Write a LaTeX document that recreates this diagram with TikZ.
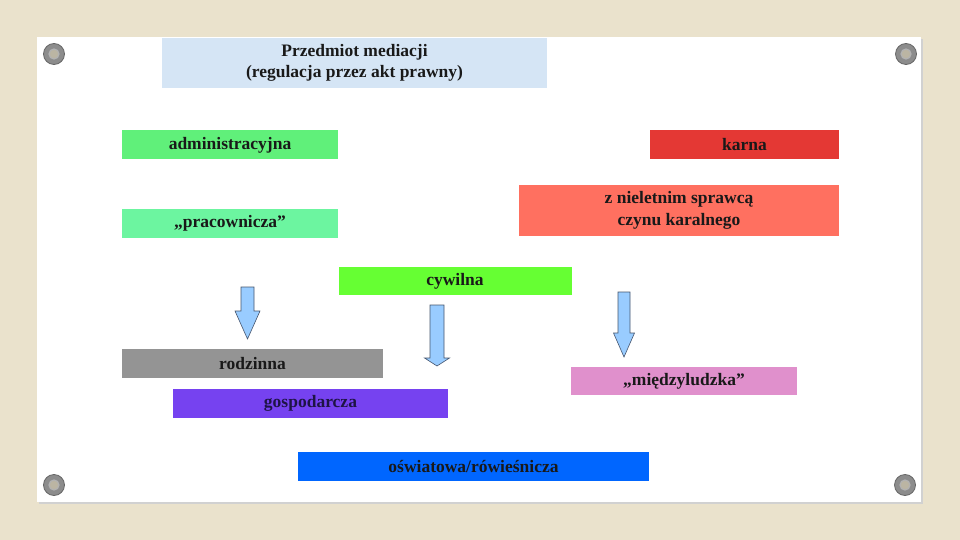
\documentclass[tikz,border=0pt]{standalone}
\usepackage{fontspec}
\setmainfont{Liberation Serif}
\usetikzlibrary{positioning}

\definecolor{canvas}{RGB}{234,226,204}
\definecolor{titleblue}{RGB}{213,229,245}
\definecolor{admgreen}{RGB}{96,240,122}
\definecolor{mint}{RGB}{108,245,160}
\definecolor{crimson}{RGB}{228,56,52}
\definecolor{salmon}{RGB}{255,112,96}
\definecolor{lime}{RGB}{102,255,51}
\definecolor{slate}{RGB}{148,148,148}
\definecolor{violet}{RGB}{118,66,240}
\definecolor{orchid}{RGB}{224,144,204}
\definecolor{azure}{RGB}{0,102,255}
\definecolor{arrowfill}{RGB}{153,204,255}
\definecolor{arrowline}{RGB}{70,85,110}
\definecolor{navyink}{RGB}{30,20,70}

\begin{document}
\begin{tikzpicture}[
  x=1pt, y=-1pt,
  font=\fontsize{17.5}{21.5}\selectfont\bfseries,
  box/.style={inner sep=0pt, align=center, minimum height=29pt, text=black!90},
  screw/.style={circle, draw=black!60, fill=black!45, line width=0.8pt, minimum size=21pt, inner sep=0pt},
  hole/.style={circle, draw=black!30, fill=canvas!80!black, line width=1.2pt, minimum size=10pt, inner sep=0pt},
  blockarrow/.style={draw=arrowline, fill=arrowfill, line width=0.6pt, line join=miter}
]
\useasboundingbox (0,0) rectangle (960,540);
\fill[canvas] (0,0) rectangle (960,540);

% card
\fill[black!18] (39,39) rectangle (923,504);
\fill[white] (37,37) rectangle (921,502);

% screws
\foreach \sx/\sy [count=\i] in {54/54, 906/54, 54/485, 905/485} {
  \node[screw] (screw\i) at (\sx,\sy) {};
  \node[hole] at (screw\i) {};
}

% title
\node[box, fill=titleblue, minimum width=385pt, minimum height=50pt] (title) at (354.5,63)
  {Przedmiot mediacji\\(regulacja przez akt prawny)};

% kinds of mediation
\node[box, fill=admgreen, minimum width=216pt] (admin) at (230,145) {administracyjna};
\node[box, fill=crimson, minimum width=189pt] (karna) at (744.5,145) {karna};
\node[box, fill=mint, minimum width=216pt] (praca) at (230,223) {„pracownicza”};
\node[box, fill=salmon, minimum width=320pt, minimum height=51pt] (nielet) at (679,210.5)
  {z nieletnim sprawcą\\czynu karalnego};
\node[box, fill=lime, minimum width=233pt, minimum height=28pt] (cywil) at (455,281) {cywilna};
\node[box, fill=slate, minimum width=261pt] (rodzin) at (252.5,363.5) {rodzinna};
\node[box, fill=violet, minimum width=275pt, text=navyink] (gosp) at (310.5,403.5) {gospodarcza};
\node[box, fill=orchid, minimum width=226pt, minimum height=28pt] (ludzka) at (684,381) {„międzyludzka”};
\node[box, fill=azure, minimum width=351pt] (oswiat) at (473.5,466.5) {oświatowa/rówieśnicza};

% block arrows
\foreach \ax/\atop/\aneck/\atip/\ashaft/\ahead in
  {247.5/287/311/339/6.5/12.5, 437/305/358/366/7/12.5, 624/292/333/357/6/10.5} {
  \draw[blockarrow] (\ax-\ashaft,\atop) -- (\ax+\ashaft,\atop) -- (\ax+\ashaft,\aneck)
    -- (\ax+\ahead,\aneck) -- (\ax,\atip) -- (\ax-\ahead,\aneck) -- (\ax-\ashaft,\aneck) -- cycle;
}

\end{tikzpicture}
\end{document}
